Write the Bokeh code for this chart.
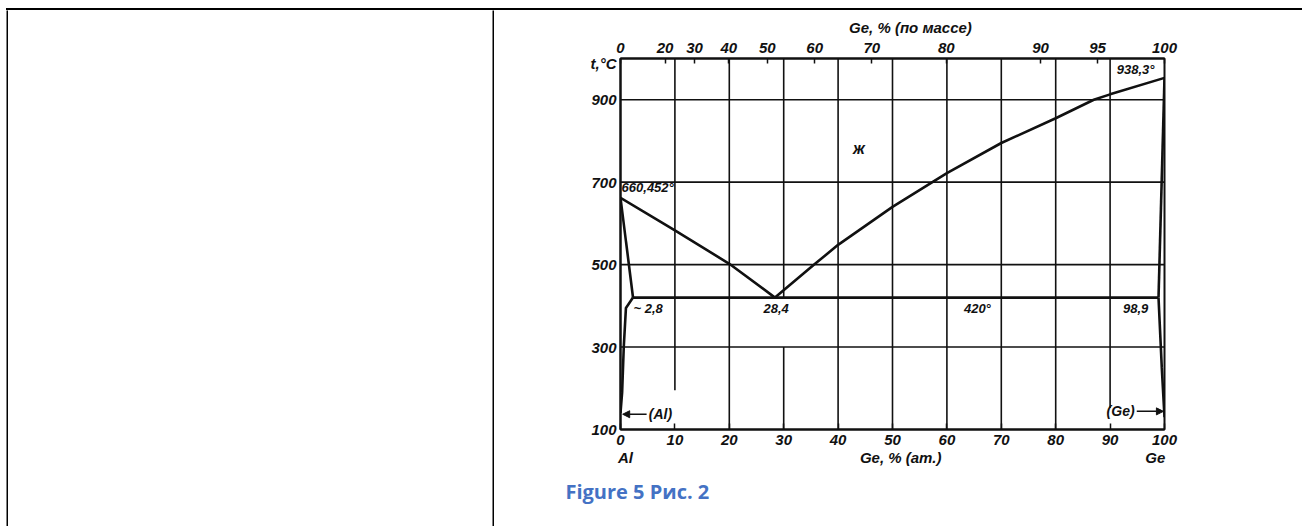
from bokeh.plotting import figure
from bokeh.layouts import row, column
from bokeh.models import (Range1d, LinearAxis, FixedTicker, Label, Arrow,
                          NormalHead, Spacer, Div)
from bokeh.embed import file_html
from bokeh.resources import INLINE

# ---------------- data ----------------
at_ticks = [0, 10, 20, 30, 40, 50, 60, 70, 80, 90, 100]          # Ge, at.%
t_ticks = [100, 300, 500, 700, 900]                              # t, °C
wt_labels = ["0", "20", "30", "40", "50", "60", "70", "80", "90", "95", "100"]
wt_tick_at = [0, 8.2, 13.6, 19.9, 27.0, 35.7, 46.2, 59.9, 77.2, 87.7, 100]

# liquidus, Al side
liq_al_x = [0, 10, 20, 28.4]
liq_al_t = [662, 583, 502, 420]
# liquidus, Ge side
liq_ge_x = [28.4, 35.6, 40, 50, 60, 70, 80, 87, 90, 100]
liq_ge_t = [420, 500, 548, 640, 722, 795, 855, 900, 913, 953]
# solidus / solvus of (Al)
sol_al_x = [0, 2.3]
sol_al_t = [662, 420]
solv_al_x = [2.3, 1.0, 0.6, 0.3, 0.0]
solv_al_t = [420, 395, 300, 190, 140]
# eutectic horizontal
eut_x = [2.3, 98.9]
eut_t = [420, 420]
# solidus / solvus of (Ge)
sol_ge_x = [100, 98.9]
sol_ge_t = [953, 420]
solv_ge_x = [98.9, 99.5, 100]
solv_ge_t = [420, 250, 130]

# grid lines of the drawing
vgrid_x = [10, 20, 30, 30, 40, 50, 60, 70, 80, 90]
vgrid_y0 = [195, 100, 420, 100, 100, 100, 100, 100, 100, 152]
vgrid_y1 = [1000, 1000, 1000, 300, 1000, 1000, 1000, 1000, 1000, 1000]
hgrid_t = [300, 500, 700, 900]

# texts placed along the axes
t_unit_pos, t_unit_text = 987, "t,°C"
top_title_pos, top_title_text = 53.3, "Ge, % (по массе)"
bottom_name_pos = [0.9, 51.5, 98.3]
bottom_name_text = ["Al", "Ge, % (ат.)", "Ge"]
caption_pos, caption_text = 3.1, "Figure 5 Рис. 2"

INK = "#111111"
FONT = "Liberation Sans"
STYLE = "bold italic"

p = figure(width=814, height=516, x_range=Range1d(0, 100), y_range=Range1d(100, 1000),
           output_backend="svg", toolbar_location=None, title=None,
           x_axis_location=None, y_axis_location=None,
           min_border_left=126, min_border_right=144,
           min_border_top=48, min_border_bottom=97)
p.grid.visible = False
p.background_fill_color = "white"
p.border_fill_color = "white"
p.outline_line_color = INK
p.outline_line_width = 2


def style_axis(ax, size="15px"):
    ax.axis_line_color = INK
    ax.axis_line_width = 2
    ax.major_tick_line_color = INK
    ax.major_tick_line_width = 1.5
    ax.minor_tick_line_color = None
    ax.major_label_text_font = FONT
    ax.major_label_text_font_style = STYLE
    ax.major_label_text_font_size = size
    ax.major_label_text_color = INK


def bare(ax):
    ax.axis_line_color = None
    ax.major_tick_line_color = None
    ax.major_tick_in = 0
    ax.major_tick_out = 0


# bottom: at.% numbers
bottom = LinearAxis(ticker=FixedTicker(ticks=at_ticks))
style_axis(bottom)
bottom.major_tick_in = 6
bottom.major_tick_out = 0
bottom.major_label_standoff = 5
p.add_layout(bottom, "below")

# bottom: element names and axis title
bottom2 = LinearAxis(ticker=FixedTicker(ticks=bottom_name_pos),
                     major_label_overrides=dict(zip(bottom_name_pos, bottom_name_text)))
style_axis(bottom2)
bare(bottom2)
bottom2.major_label_standoff = 1
p.add_layout(bottom2, "below")

# bottom: document caption
bottom3 = LinearAxis(ticker=FixedTicker(ticks=[caption_pos]),
                     major_label_overrides={caption_pos: caption_text})
bare(bottom3)
bottom3.major_label_text_font = "Open Sans"
bottom3.major_label_text_font_style = "bold"
bottom3.major_label_text_font_size = "20px"
bottom3.major_label_text_color = "#4472C4"
bottom3.major_label_standoff = 9
p.add_layout(bottom3, "below")

# left: temperature
left_ticks = t_ticks + [t_unit_pos]
left = LinearAxis(ticker=FixedTicker(ticks=left_ticks),
                  major_label_overrides={t_unit_pos: t_unit_text})
style_axis(left)
left.major_tick_in = 0
left.major_tick_out = 0
left.major_tick_line_color = None
left.major_label_standoff = 4
p.add_layout(left, "left")

# top: wt.% scale
top = LinearAxis(ticker=FixedTicker(ticks=wt_tick_at),
                 major_label_overrides=dict(zip(wt_tick_at, wt_labels)))
style_axis(top)
top.major_tick_in = 5
top.major_tick_out = 0
top.major_label_standoff = 6
p.add_layout(top, "above")

top2 = LinearAxis(ticker=FixedTicker(ticks=[top_title_pos]),
                  major_label_overrides={top_title_pos: top_title_text})
style_axis(top2)
bare(top2)
top2.major_label_standoff = 4
p.add_layout(top2, "above")

# grid of the original drawing
p.segment(x0=vgrid_x, y0=vgrid_y0, x1=vgrid_x, y1=vgrid_y1, line_color=INK, line_width=1.6)
p.segment(x0=[0] * len(hgrid_t), y0=hgrid_t, x1=[100] * len(hgrid_t), y1=hgrid_t,
          line_color=INK, line_width=1.6)

# phase boundaries
for xs, ts in [(liq_al_x, liq_al_t), (liq_ge_x, liq_ge_t), (sol_al_x, sol_al_t),
               (solv_al_x, solv_al_t), (eut_x, eut_t), (sol_ge_x, sol_ge_t),
               (solv_ge_x, solv_ge_t)]:
    p.line(xs, ts, line_color=INK, line_width=2.6)


def lab(x, y, text, align="left", size="13px"):
    p.add_layout(Label(x=x, y=y, text=text, text_align=align, text_baseline="middle",
                       text_font=FONT, text_font_style=STYLE, text_font_size=size,
                       text_color=INK))


lab(0.2, 688, "660,452°")
lab(2.4, 393, "~ 2,8")
lab(28.6, 393, "28,4", "center")
lab(65.6, 393, "420°", "center")
lab(94.7, 393, "98,9", "center")
lab(94.7, 973, "938,3°", "center")
lab(43.8, 782, "ж", "center", "16px")
lab(5.2, 137, "(Al)", "left", "14px")
lab(94.5, 144, "(Ge)", "right", "14px")

p.add_layout(Arrow(end=NormalHead(size=7, fill_color=INK, line_color=INK),
                   x_start=4.8, y_start=137, x_end=0.4, y_end=137,
                   line_color=INK, line_width=1.5))
p.add_layout(Arrow(end=NormalHead(size=7, fill_color=INK, line_color=INK),
                   x_start=94.9, y_start=144, x_end=99.8, y_end=144,
                   line_color=INK, line_width=1.5))


# ---------------- table borders of the document ----------------
def bar(w, h):
    f = figure(width=w, height=h, output_backend="svg", toolbar_location=None,
               title=None, x_axis_location=None, y_axis_location=None, min_border=0)
    f.grid.visible = False
    f.background_fill_color = "black"
    f.border_fill_color = "black"
    f.outline_line_color = None
    return f


top_rule = Div(text='<div style="height:2px;background:#000;margin:0;padding:0"></div>',
               width=1296, height=2, margin=0,
               styles={"background-color": "#000", "overflow": "hidden",
                       "line-height": "0", "font-size": "0", "border": "none",
                       "padding": "0"})
top_line = row(Spacer(width=6, height=2), top_rule)
left_cell = row(Spacer(width=6, height=516), bar(2, 516),
                Spacer(width=484, height=516), bar(2, 516))
page = column(Spacer(width=1302, height=8), top_line, row(left_cell, p))

open("out.html", "w").write(file_html(page, INLINE))
